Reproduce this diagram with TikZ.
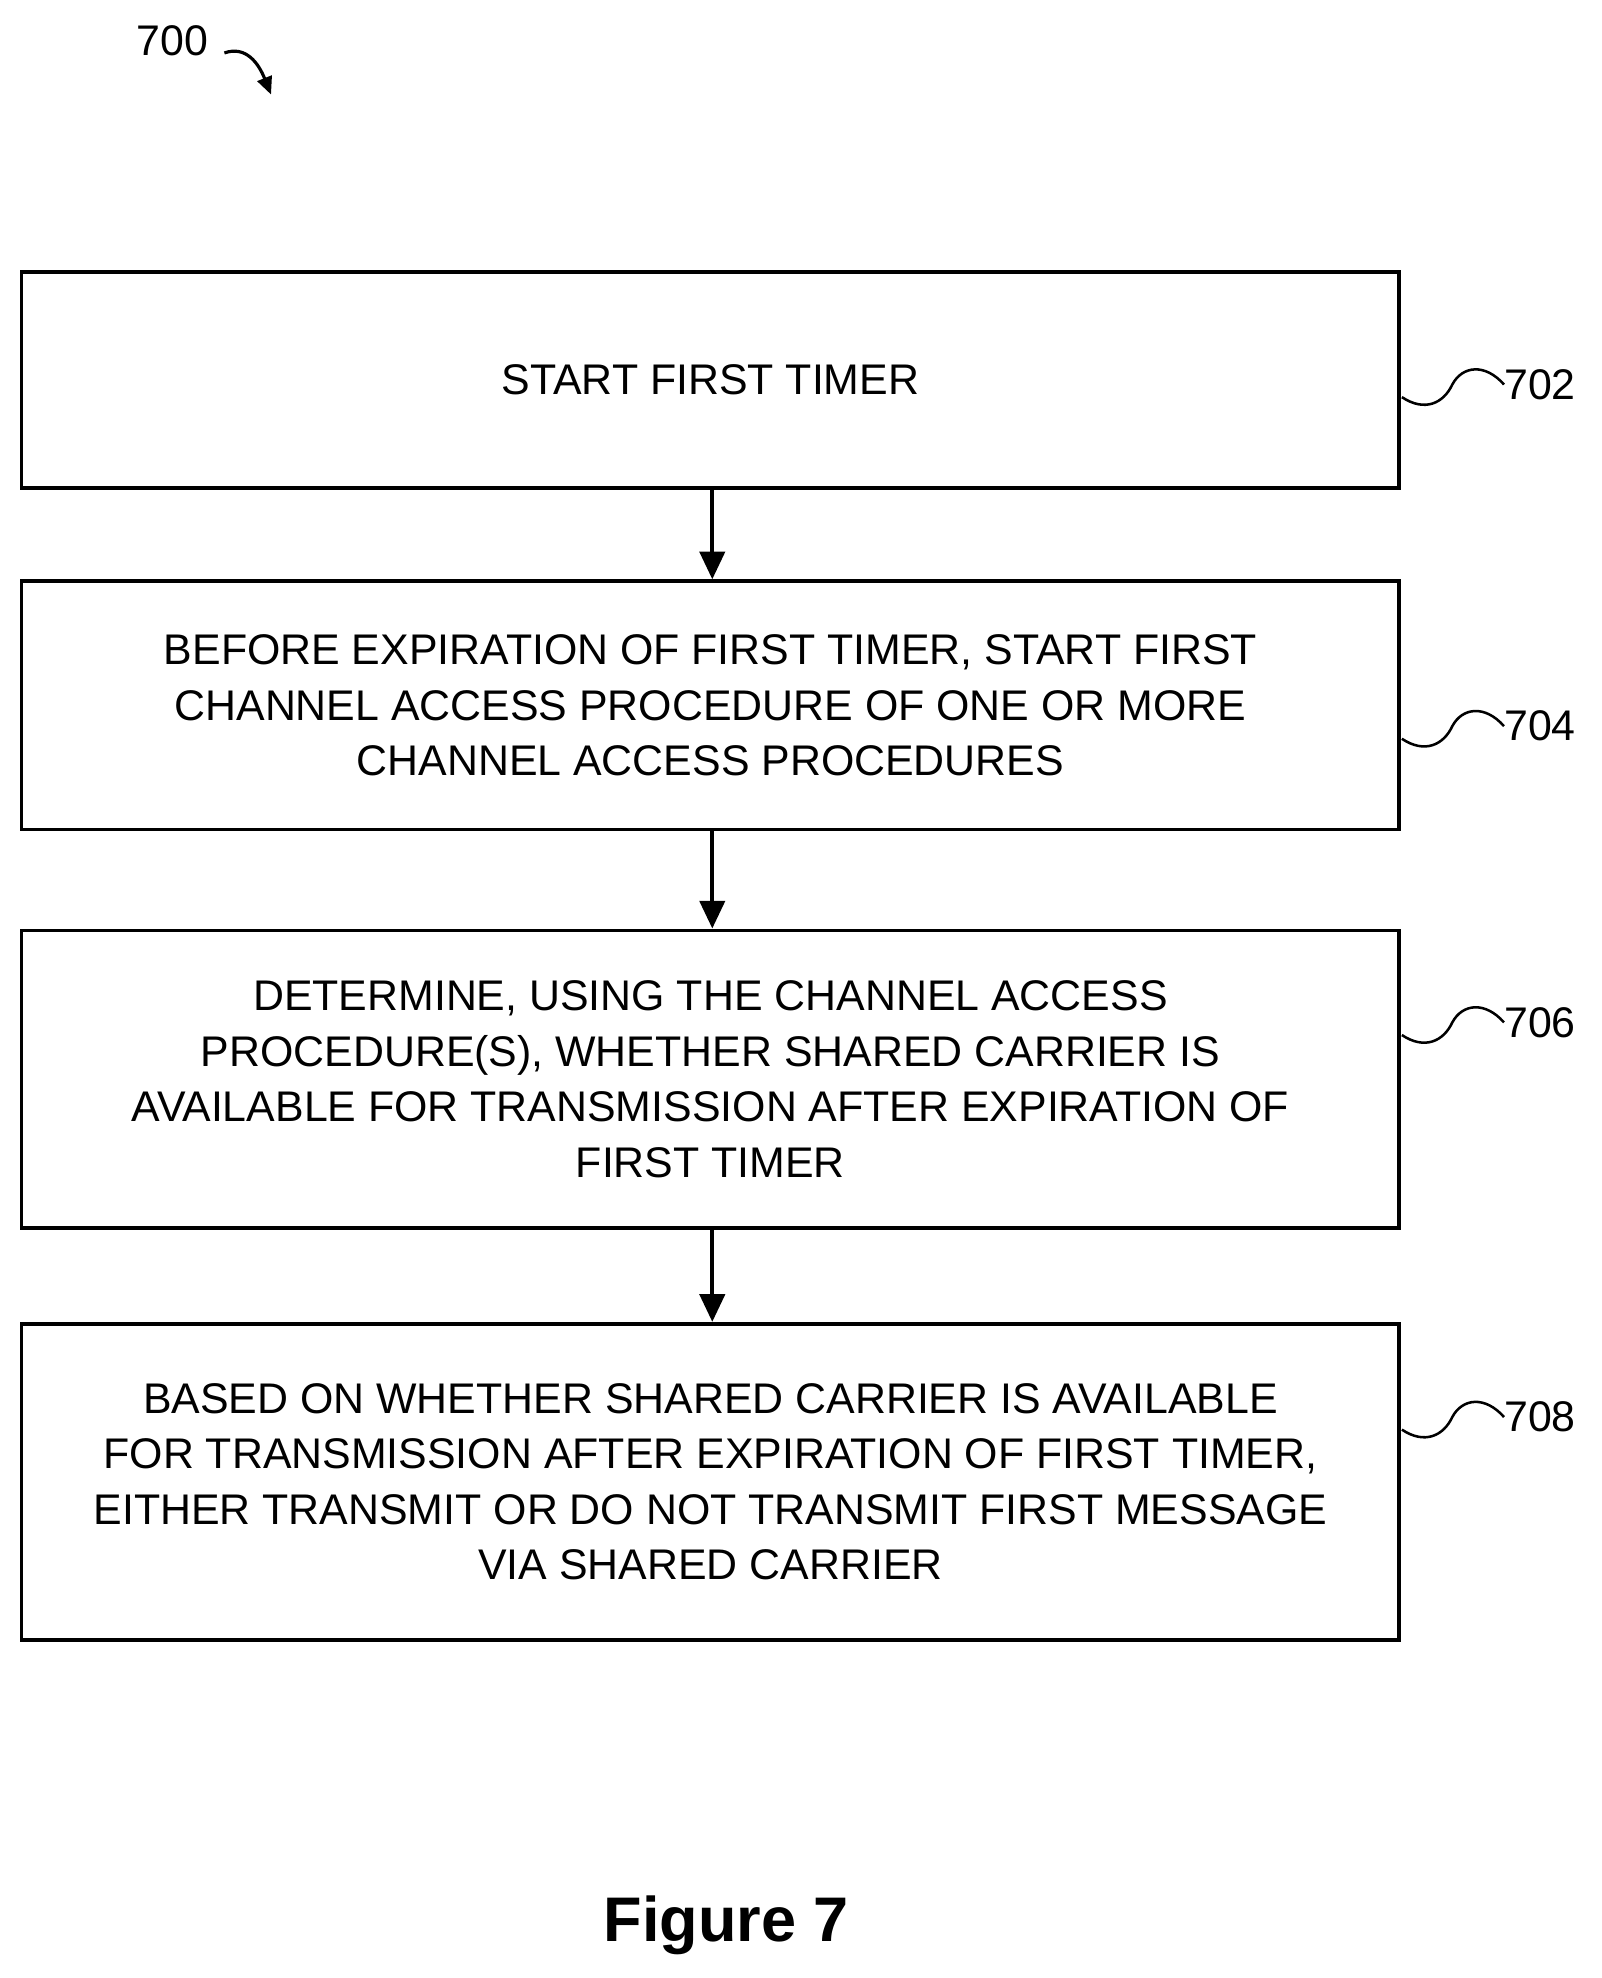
\documentclass[tikz,border=0pt]{standalone}
\usepackage{fontspec}
\setmainfont{Liberation Sans}
\usetikzlibrary{arrows.meta}
\begin{document}
\begin{tikzpicture}[x=1pt,y=-1pt,
 box/.style={draw,line width=3pt,minimum width=1093pt,align=center,inner sep=0pt,
   font=\fontsize{34}{44}\selectfont},
 arr/.style={line width=3pt,-{Triangle[length=22pt,width=20pt]}},
 lbl/.style={font=\fontsize{34}{40}\selectfont,anchor=west,inner sep=0pt}]
\useasboundingbox (0,0) rectangle (1270,1569);
\node[box,minimum height=171pt] (b1) at (563.5,301.5) {START FIRST TIMER};
\node[box,minimum height=197pt] (b2) at (563.5,559.5) {BEFORE EXPIRATION OF FIRST TIMER, START FIRST\\CHANNEL ACCESS PROCEDURE OF ONE OR MORE\\CHANNEL ACCESS PROCEDURES};
\node[box,minimum height=236pt] (b3) at (563.5,856) {DETERMINE, USING THE CHANNEL ACCESS\\PROCEDURE(S), WHETHER SHARED CARRIER IS\\AVAILABLE FOR TRANSMISSION AFTER EXPIRATION OF\\FIRST TIMER};
\node[box,minimum height=251pt] (b4) at (563.5,1175.5) {BASED ON WHETHER SHARED CARRIER IS AVAILABLE\\FOR TRANSMISSION AFTER EXPIRATION OF FIRST TIMER,\\EITHER TRANSMIT OR DO NOT TRANSMIT FIRST MESSAGE\\VIA SHARED CARRIER};
\draw[arr] (b1.south -| 565,0) -- (b2.north -| 565,0);
\draw[arr] (b2.south -| 565,0) -- (b3.north -| 565,0);
\draw[arr] (b3.south -| 565,0) -- (b4.north -| 565,0);
\foreach \n/\t/\y in {l1/702/305,l2/704/576,l3/706/811,l4/708/1124}{
 \node[lbl] (\n) at (1193,\y) {\t};
 \draw[line width=2pt] (1112,\y+10) .. controls (1130,\y+22) and (1145,\y+15) .. (1152,\y)
   .. controls (1160,\y-15) and (1178,\y-17) .. (\n.west);
}
\node[font=\fontsize{34}{40}\selectfont,inner sep=0pt] (t700) at (137,32) {700};
\coordinate (a1) at (215,75);
\draw[line width=2.5pt,-{Triangle[length=14pt,width=12pt]}] (178,42) .. controls (195,36) and (205,50) .. (a1);
\node[font=\bfseries\fontsize{50}{60}\selectfont,inner sep=0pt] (fig) at (576,1527) {Figure 7};
\end{tikzpicture}
\end{document}
